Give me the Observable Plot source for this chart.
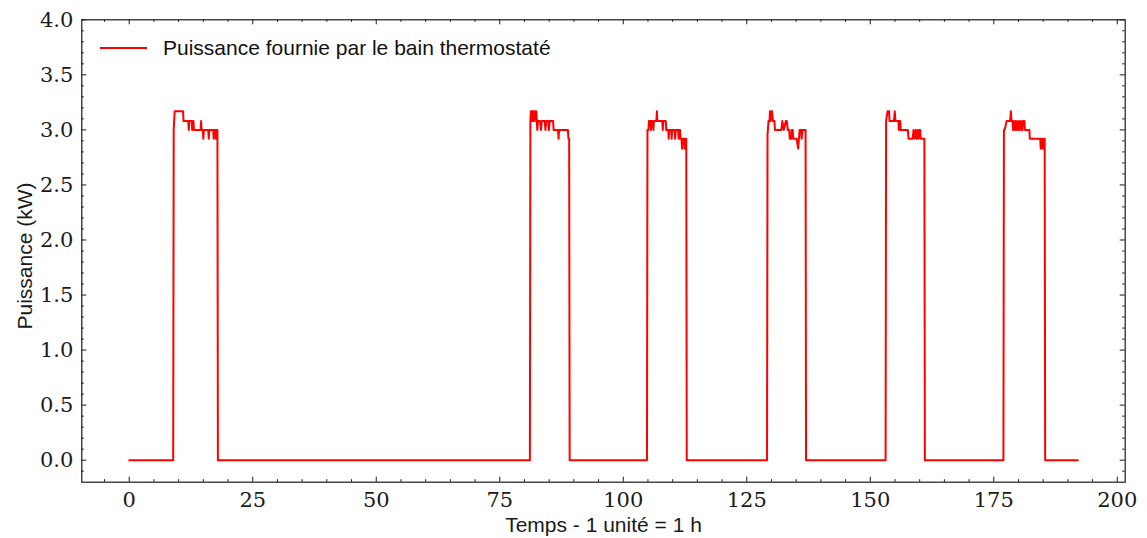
<!DOCTYPE html>
<html>
<head>
<meta charset="utf-8">
<script src="https://cdn.jsdelivr.net/npm/d3@7"></script>
<script src="https://cdn.jsdelivr.net/npm/@observablehq/plot@0.6"></script>
<style>
  html, body { margin: 0; padding: 0; background: #fff; }
  #wrap { position: relative; width: 1147px; height: 538px; }
  #legend { position: absolute; left: 100px; top: 36px; height: 24px; display: flex; align-items: center;
            font-family: "Liberation Sans", sans-serif; font-size: 21px; color: #111; }
  #legend .sw { width: 47px; height: 0; border-top: 2px solid #ff0000; margin-right: 16px; }
  g[aria-label="xticklabels"] text, g[aria-label="yticklabels"] text { font-family: "DejaVu Serif", serif !important; }
  g[aria-label="axislabels"] text { font-family: "Liberation Sans", sans-serif !important; }
</style>
</head>
<body>
<div id="wrap"><div id="legend"><span class="sw"></span><span>Puissance fournie par le bain thermostaté</span></div></div>
<script>
// ---- Data (time in hours, power in kW) ----
const debut = [[0, 0]];
const impulsion1 = [[8.9,0],[9.0,3.0],[9.2,3.17],[10.9,3.17],[11.0,3.08],[11.95,3.08],[12.05,3.0],[12.15,3.08],[12.65,3.08],[12.75,3.0],[12.85,3.08],[13.0,3.08],[13.1,3.0],[14.45,3.0],[14.55,3.08],[14.65,3.0],[14.9,3.0],[15.0,2.92],[15.1,3.0],[16.0,3.0],[16.1,2.92],[16.2,3.0],[17.0,3.0],[17.1,2.92],[17.2,3.0],[17.45,3.0],[17.55,2.92],[17.65,3.0],[17.85,3.0],[17.95,0]];
const impulsion2 = [[81.1,0],[81.2,3.08],[81.3,3.17],[81.45,3.08],[81.6,3.17],[81.75,3.08],[81.9,3.17],[82.05,3.08],[82.2,3.17],[82.4,3.17],[82.5,3.08],[82.6,3.0],[82.75,3.08],[83.2,3.08],[83.35,3.0],[83.5,3.08],[84.1,3.08],[84.25,3.0],[84.4,3.08],[84.8,3.08],[84.95,3.0],[85.1,3.08],[85.8,3.08],[85.9,3.0],[86.8,3.0],[86.9,2.92],[87.0,3.0],[88.8,3.0],[88.9,2.92],[89.05,2.92],[89.15,0]];
const impulsion3 = [[104.8,0],[104.9,3.0],[105.1,3.0],[105.2,3.08],[105.5,3.08],[105.6,3.0],[105.7,3.08],[106.0,3.08],[106.1,3.0],[106.2,3.08],[106.7,3.08],[106.8,3.17],[106.9,3.08],[107.9,3.08],[108.0,3.0],[108.1,3.08],[108.6,3.08],[108.7,3.0],[109.1,3.0],[109.2,2.92],[109.3,3.0],[109.7,3.0],[109.8,2.92],[109.9,3.0],[110.4,3.0],[110.5,2.92],[110.6,3.0],[111.1,3.0],[111.2,2.92],[111.3,3.0],[111.5,3.0],[111.6,2.92],[111.8,2.92],[111.9,2.83],[112.0,2.92],[112.3,2.92],[112.4,2.83],[112.5,2.92],[112.75,2.92],[112.85,0]];
const impulsion4 = [[129.1,0],[129.2,2.95],[129.4,3.08],[129.6,3.08],[129.7,3.17],[129.8,3.08],[130.0,3.17],[130.1,3.17],[130.3,3.08],[130.6,3.08],[130.7,3.0],[132.0,3.0],[132.2,3.08],[132.5,3.0],[132.9,3.08],[133.1,3.08],[133.3,3.0],[133.6,3.0],[133.7,2.92],[134.0,2.92],[134.1,3.0],[134.3,3.0],[134.4,2.92],[135.1,2.92],[135.4,2.83],[135.7,3.0],[136.0,3.0],[136.1,2.92],[136.3,3.0],[136.9,3.0],[137.0,0]];
const impulsion5 = [[153.1,0],[153.2,3.08],[153.5,3.17],[153.8,3.17],[153.9,3.08],[154.8,3.08],[154.95,3.17],[155.1,3.08],[155.7,3.08],[155.8,3.0],[155.9,3.08],[156.05,3.08],[156.15,3.0],[157.6,3.0],[157.75,2.92],[158.6,2.92],[158.75,3.0],[158.9,2.92],[159.2,3.0],[159.35,2.92],[159.6,3.0],[159.75,2.92],[159.95,3.0],[160.1,3.0],[160.2,2.92],[160.95,2.92],[161.05,0]];
const impulsion6 = [[176.95,0],[177.05,3.0],[177.2,3.0],[177.6,3.08],[178.3,3.08],[178.45,3.17],[178.6,3.08],[178.8,3.08],[178.9,3.0],[179.0,3.08],[179.25,3.0],[179.35,3.08],[179.6,3.0],[179.7,3.08],[180.0,3.0],[180.1,3.08],[180.4,3.0],[180.5,3.08],[180.8,3.0],[180.9,3.08],[181.2,3.08],[181.3,3.0],[182.2,3.0],[182.3,2.92],[184.4,2.92],[184.5,2.83],[184.6,2.92],[184.7,2.83],[184.8,2.92],[184.9,2.83],[185.0,2.92],[185.1,2.83],[185.2,2.92],[185.3,2.92],[185.4,0]];
const fin = [[192, 0]];

const xTicks = [0, 25, 50, 75, 100, 125, 150, 175, 200];
const yTicks = [0.0, 0.5, 1.0, 1.5, 2.0, 2.5, 3.0, 3.5, 4.0];
const xLabel = "Temps - 1 unité = 1 h";
const yLabel = "Puissance (kW)";

// ---- Build ----
const serie = [...debut, ...impulsion1, ...impulsion2, ...impulsion3, ...impulsion4, ...impulsion5, ...impulsion6, ...fin]
  .map(([t, p]) => ({t, p}));

const W = 1147, H = 538;
const mL = 81.3, mR = 22.3, mT = 19.3, mB = 56.3;
const FW = W - mL - mR, FH = H - mT - mB;
const major = 5, minor = 2.5;
const xMinor = d3.range(-5, 201, 5).filter(v => v % 25 !== 0);
const yMinor = d3.range(-1, 40, 1).map(v => v / 10).filter(v => Math.round(v * 10) % 5 !== 0);

const ink = "#1a1a1a";
const serif = "DejaVu Serif";
const sans = "Liberation Sans";

const chart = Plot.plot({
  width: W, height: H,
  marginLeft: mL, marginRight: mR, marginTop: mT, marginBottom: mB,
  x: {domain: [-9.6, 201.6], axis: null},
  y: {domain: [-0.2, 4.0], axis: null},
  style: {background: "transparent"},
  marks: [
    Plot.line(serie, {x: "t", y: "p", stroke: "#ff0000", strokeWidth: 2}),
    // ticks inward on all four sides
    Plot.tickX(xTicks, {x: d => d, insetTop: FH - major, stroke: ink, strokeWidth: 1}),
    Plot.tickX(xTicks, {x: d => d, insetBottom: FH - major, stroke: ink, strokeWidth: 1}),
    Plot.tickX(xMinor, {x: d => d, insetTop: FH - minor, stroke: ink, strokeWidth: 1}),
    Plot.tickX(xMinor, {x: d => d, insetBottom: FH - minor, stroke: ink, strokeWidth: 1}),
    Plot.tickY(yTicks, {y: d => d, insetRight: FW - major, stroke: ink, strokeWidth: 1}),
    Plot.tickY(yTicks, {y: d => d, insetLeft: FW - major, stroke: ink, strokeWidth: 1}),
    Plot.tickY(yMinor, {y: d => d, insetRight: FW - minor, stroke: ink, strokeWidth: 1}),
    Plot.tickY(yMinor, {y: d => d, insetLeft: FW - minor, stroke: ink, strokeWidth: 1}),
    Plot.frame({stroke: ink, strokeWidth: 1.2}),
    // tick labels
    Plot.text(xTicks, {x: d => d, text: d => String(d), frameAnchor: "bottom", textAnchor: "middle", lineAnchor: "top", dy: 10,
      fontFamily: serif, fontSize: 21, fill: ink, ariaLabel: "xticklabels"}),
    Plot.text(yTicks, {y: d => d, text: d => d.toFixed(1), frameAnchor: "left", textAnchor: "end", lineAnchor: "middle", dx: -8.5,
      fontFamily: serif, fontSize: 21, fill: ink, ariaLabel: "yticklabels"}),
    // axis labels
    Plot.text([xLabel], {text: d => d, frameAnchor: "bottom", textAnchor: "middle", lineAnchor: "middle", dy: 43,
      fontFamily: sans, fontSize: 21, fill: ink, ariaLabel: "axislabels"}),
    Plot.text([yLabel], {text: d => d, frameAnchor: "left", rotate: -90, textAnchor: "middle", lineAnchor: "middle", dx: -57, dy: 5,
      fontFamily: sans, fontSize: 21, fill: ink, ariaLabel: "axislabels"})
  ]
});
document.getElementById("wrap").prepend(chart);
</script>
</body>
</html>
